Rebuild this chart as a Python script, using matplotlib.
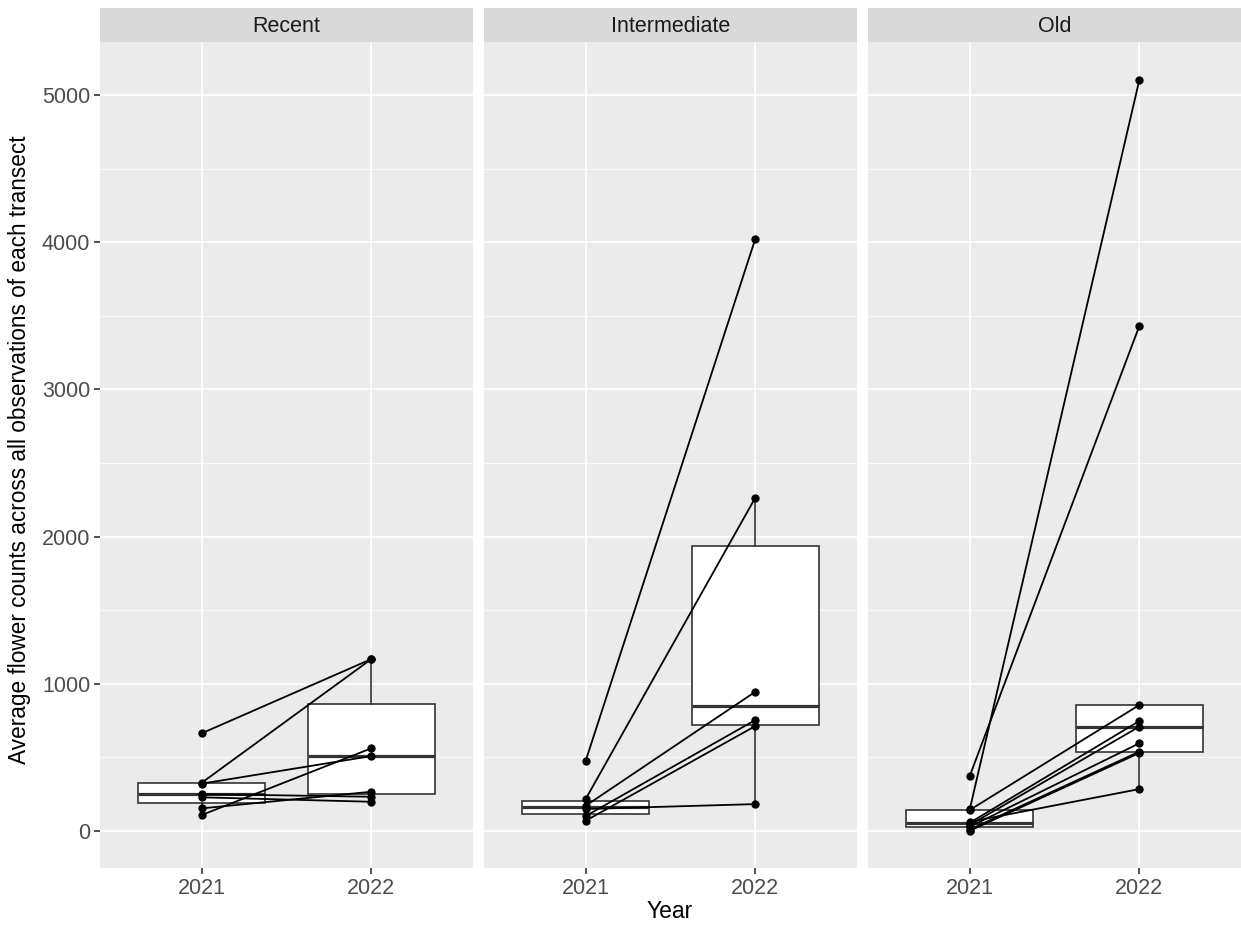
import matplotlib
matplotlib.use("Agg")
import matplotlib.pyplot as plt
import numpy as np

plt.rcParams['font.family'] = ['Liberation Sans', 'DejaVu Sans']

# mean flower counts per transect, same transect order in both years
sites = ['Recent', 'Intermediate', 'Old']
years = ['2021', '2022']
recent_2021 = [664, 328, 322, 109, 154, 251, 229]
recent_2022 = [1168, 1168, 509, 562, 267, 233, 199]
intermediate_2021 = [478, 218, 172, 150, 102, 70]
intermediate_2022 = [4022, 2264, 946, 183, 754, 713]
old_2021 = [374, 147, 143, 63, 56, 41, 29, 10, 2]
old_2022 = [3430, 5100, 856, 285, 747, 709, 596, 539, 530]

counts = {
    'Recent': (recent_2021, recent_2022),
    'Intermediate': (intermediate_2021, intermediate_2022),
    'Old': (old_2021, old_2022),
}

W, H = 1241, 925
fig = plt.figure(figsize=(W / 100, H / 100), dpi=100)

panel_left = [100, 484, 868]
panel_w = 373
panel_top, panel_bottom = 42, 868
strip_top = 8

grey_bg = '#EBEBEB'
edge = '#333333'
fs = 15.5

axes = []
for i, site in enumerate(sites):
    x0 = panel_left[i] / W
    ax = fig.add_axes([x0, 1 - panel_bottom / H, panel_w / W, (panel_bottom - panel_top) / H])
    ax.set_facecolor(grey_bg)
    for s in ax.spines.values():
        s.set_visible(False)

    y21, y22 = counts[site]
    pos = [1, 2]

    # grid
    for v in range(0, 5001, 1000):
        ax.axhline(v, color='white', lw=1.2, zorder=0)
    for v in range(500, 5001, 1000):
        ax.axhline(v, color='white', lw=0.6, zorder=0)
    for p in pos:
        ax.axvline(p, color='white', lw=1.2, zorder=0)

    ax.boxplot([y21, y22], positions=pos, widths=0.75, patch_artist=True,
               showfliers=False, showcaps=False,
               boxprops=dict(facecolor='white', edgecolor=edge, linewidth=1.2),
               whiskerprops=dict(color=edge, linewidth=1.2),
               medianprops=dict(color=edge, linewidth=2.3),
               zorder=2)

    # paired transects
    for a, b in zip(y21, y22):
        ax.plot(pos, [a, b], color='black', lw=1.3, zorder=3)
    ax.scatter([1] * len(y21), y21, s=36, color='black', zorder=4, linewidths=0)
    ax.scatter([2] * len(y22), y22, s=36, color='black', zorder=4, linewidths=0)

    ax.set_xlim(0.4, 2.6)
    ax.set_ylim(-251, 5360)
    ax.set_xticks(pos)
    ax.set_xticklabels(years)
    ax.set_yticks(range(0, 5001, 1000))
    ax.tick_params(axis='both', colors='#333333', labelcolor='#4D4D4D',
                   labelsize=fs, length=4, width=1.2, pad=3)
    if i > 0:
        ax.tick_params(axis='y', left=False, labelleft=False)

    # facet strip
    sax = fig.add_axes([x0, 1 - panel_top / H, panel_w / W, (panel_top - strip_top) / H])
    sax.set_facecolor('#D9D9D9')
    sax.set_xticks([])
    sax.set_yticks([])
    for s in sax.spines.values():
        s.set_visible(False)
    sax.text(0.5, 0.47, site, ha='center', va='center', fontsize=fs,
             color='#1A1A1A', transform=sax.transAxes)
    axes.append(ax)

fig.text(670 / W, 1 - 912 / H, 'Year', ha='center', va='center', fontsize=16.5)
fig.text(20 / W, 1 - 450 / H, 'Average flower counts across all observations of each transect',
         ha='center', va='center', rotation=90, fontsize=16.3)

fig.savefig('out.png', dpi=100)
